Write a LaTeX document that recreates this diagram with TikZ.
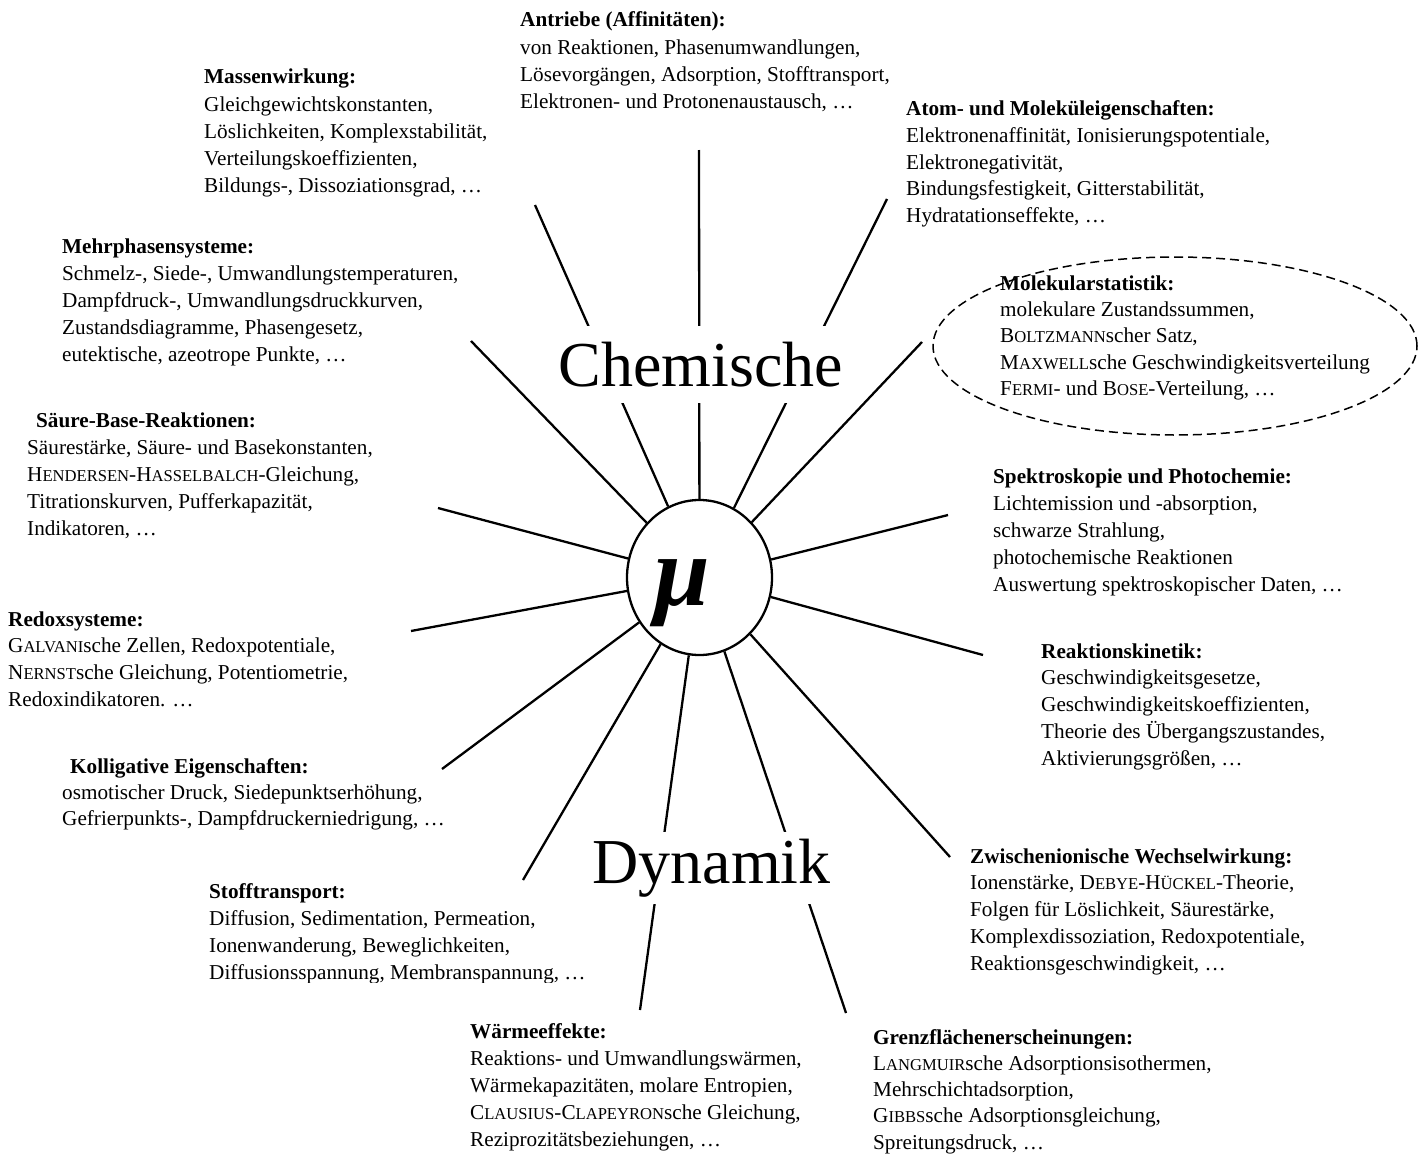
\documentclass[tikz,border=0pt]{standalone}
\usepackage{fontspec}
\setmainfont{Liberation Serif}[Ligatures={TeX,CommonOff}]
\usetikzlibrary{shapes.geometric}
\newcommand\blk[3]{\vtop{\baselineskip=#1\relax\lineskip=0pt\lineskiplimit=-100pt\hbox{\bfseries #2}#3}}
\newcommand\li[1]{\hbox{#1}}
\newcommand\SC[2]{#1{\fontsize{16.6}{16.6}\selectfont #2}}
\begin{document}
\begin{tikzpicture}[x=1pt,y=-1pt,
  txt/.style={anchor=base west, inner sep=0pt, font=\fontsize{21.2}{27}\selectfont},
  spoke/.style={line width=2.3pt},
  bigword/.style={font=\fontsize{64}{64}\selectfont, fill=white, anchor=base, inner xsep=1pt}]
\useasboundingbox (0,0) rectangle (1422,1156);

% centre
\node[ellipse, draw, line width=2.3pt, minimum width=145pt, minimum height=155pt, inner sep=0pt] (mu) at (699.5,577.5) {};
\node[anchor=base, inner sep=0pt, font=\fontsize{100}{100}\selectfont\bfseries\itshape] (mulabel) at (682,605) {μ};

% spoke ends
\coordinate (e1) at (699,150);
\coordinate (e2) at (535,205);
\coordinate (e3) at (887,199);
\coordinate (e4) at (471,341);
\coordinate (e5) at (922,342);
\coordinate (e6) at (438,508);
\coordinate (e7) at (948,515);
\coordinate (e8) at (411,631);
\coordinate (e9) at (983,655);
\coordinate (e10) at (442,769);
\coordinate (e11) at (950,857);
\coordinate (e12) at (523,880);
\coordinate (e13) at (640,1010);
\coordinate (e14) at (846,1013);
\foreach \i in {1,...,14} {\draw[spoke] (mu) -- (e\i);}

% big words
\node[bigword, inner ysep=16pt] (chem) at (701,386) {Chemische};
\node[bigword, inner ysep=7pt] (dyn) at (711.5,883) {Dynamik};

% dashed ellipse
\node[ellipse, draw, dashed, dash pattern=on 9pt off 5pt, line width=1.5pt, minimum width=484pt, minimum height=178pt, inner sep=0pt] (molring) at (1175,346) {};

% text blocks
\node[txt] (antr) at (520,27) {\blk{27.3pt}{Antriebe (Affinitäten):}{%
  \li{von Reaktionen, Phasenumwandlungen,}%
  \li{Lösevorgängen, Adsorption, Stofftransport,}%
  \li{Elektronen- und Protonenaustausch, …}}};

\node[txt] (mass) at (204,84) {\blk{27.2pt}{Massenwirkung:}{%
  \li{Gleichgewichtskonstanten,}%
  \li{Löslichkeiten, Komplexstabilität,}%
  \li{Verteilungskoeffizienten,}%
  \li{Bildungs-, Dissoziationsgrad, …}}};

\node[txt] (atom) at (906,115) {\blk{27pt}{Atom- und Moleküleigenschaften:}{%
  \li{Elektronenaffinität, Ionisierungspotentiale,}%
  \li{Elektronegativität,}%
  \li{Bindungsfestigkeit, Gitterstabilität,}%
  \li{Hydratationseffekte, …}}};

\node[txt] (mehr) at (62,253) {\blk{27.2pt}{Mehrphasensysteme:}{%
  \li{Schmelz-, Siede-, Umwandlungstemperaturen,}%
  \li{Dampfdruck-, Umwandlungsdruckkurven,}%
  \li{Zustandsdiagramme, Phasengesetz,}%
  \li{eutektische, azeotrope Punkte, …}}};

\node[txt] (molek) at (1000,290) {\blk{26.4pt}{Molekularstatistik:}{%
  \li{molekulare Zustandssummen,}%
  \li{\SC{B}{OLTZMANN}scher Satz,}%
  \li{\SC{M}{AXWELL}sche Geschwindigkeitsverteilung}%
  \li{\SC{F}{ERMI}- und \SC{B}{OSE}-Verteilung, …}}};

\node[txt] (saeure) at (27,427) {\blk{27pt}{\kern9pt Säure-Base-Reaktionen:}{%
  \li{Säurestärke, Säure- und Basekonstanten,}%
  \li{\SC{H}{ENDERSEN}-\SC{H}{ASSELBALCH}-Gleichung,}%
  \li{Titrationskurven, Pufferkapazität,}%
  \li{Indikatoren, …}}};

\node[txt] (spek) at (993,483) {\blk{27.2pt}{Spektroskopie und Photochemie:}{%
  \li{Lichtemission und -absorption,}%
  \li{schwarze Strahlung,}%
  \li{photochemische Reaktionen}%
  \li{Auswertung spektroskopischer Daten, …}}};

\node[txt] (redox) at (8,626) {\blk{26.7pt}{Redoxsysteme:}{%
  \li{\SC{G}{ALVANI}sche Zellen, Redoxpotentiale,}%
  \li{\SC{N}{ERNST}sche Gleichung, Potentiometrie,}%
  \li{Redoxindikatoren. …}}};

\node[txt] (kin) at (1041,658) {\blk{26.8pt}{Reaktionskinetik:}{%
  \li{Geschwindigkeitsgesetze,}%
  \li{Geschwindigkeitskoeffizienten,}%
  \li{Theorie des Übergangszustandes,}%
  \li{Aktivierungsgrößen, …}}};

\node[txt] (koll) at (62,773) {\blk{26.3pt}{\kern8pt Kolligative Eigenschaften:}{%
  \li{osmotischer Druck, Siedepunktserhöhung,}%
  \li{Gefrierpunkts-, Dampfdruckerniedrigung, …}}};

\node[txt] (zwi) at (970,863) {\blk{26.8pt}{Zwischenionische Wechselwirkung:}{%
  \li{Ionenstärke, \SC{D}{EBYE}-\SC{H}{ÜCKEL}-Theorie,}%
  \li{Folgen für Löslichkeit, Säurestärke,}%
  \li{Komplexdissoziation, Redoxpotentiale,}%
  \li{Reaktionsgeschwindigkeit, …}}};

\begin{scope}
\clip (0,0) rectangle (1422,982);
\node[txt] (stoff) at (209,898) {\blk{27pt}{Stofftransport:}{%
  \li{Diffusion, Sedimentation, Permeation,}%
  \li{Ionenwanderung, Beweglichkeiten,}%
  \li{Diffusionsspannung, Membranspannung, …}}};
\end{scope}

\node[txt] (waerme) at (470,1038) {\blk{27.2pt}{Wärmeeffekte:}{%
  \li{Reaktions- und Umwandlungswärmen,}%
  \li{Wärmekapazitäten, molare Entropien,}%
  \li{\SC{C}{LAUSIUS}-\SC{C}{LAPEYRON}sche Gleichung,}%
  \li{Reziprozitätsbeziehungen, …}}};

\node[txt] (grenz) at (873,1044) {\blk{26.3pt}{Grenzflächenerscheinungen:}{%
  \li{\SC{L}{ANGMUIR}sche Adsorptionsisothermen,}%
  \li{Mehrschichtadsorption,}%
  \li{\SC{G}{IBBS}sche Adsorptionsgleichung,}%
  \li{Spreitungsdruck, …}}};
\end{tikzpicture}
\end{document}
